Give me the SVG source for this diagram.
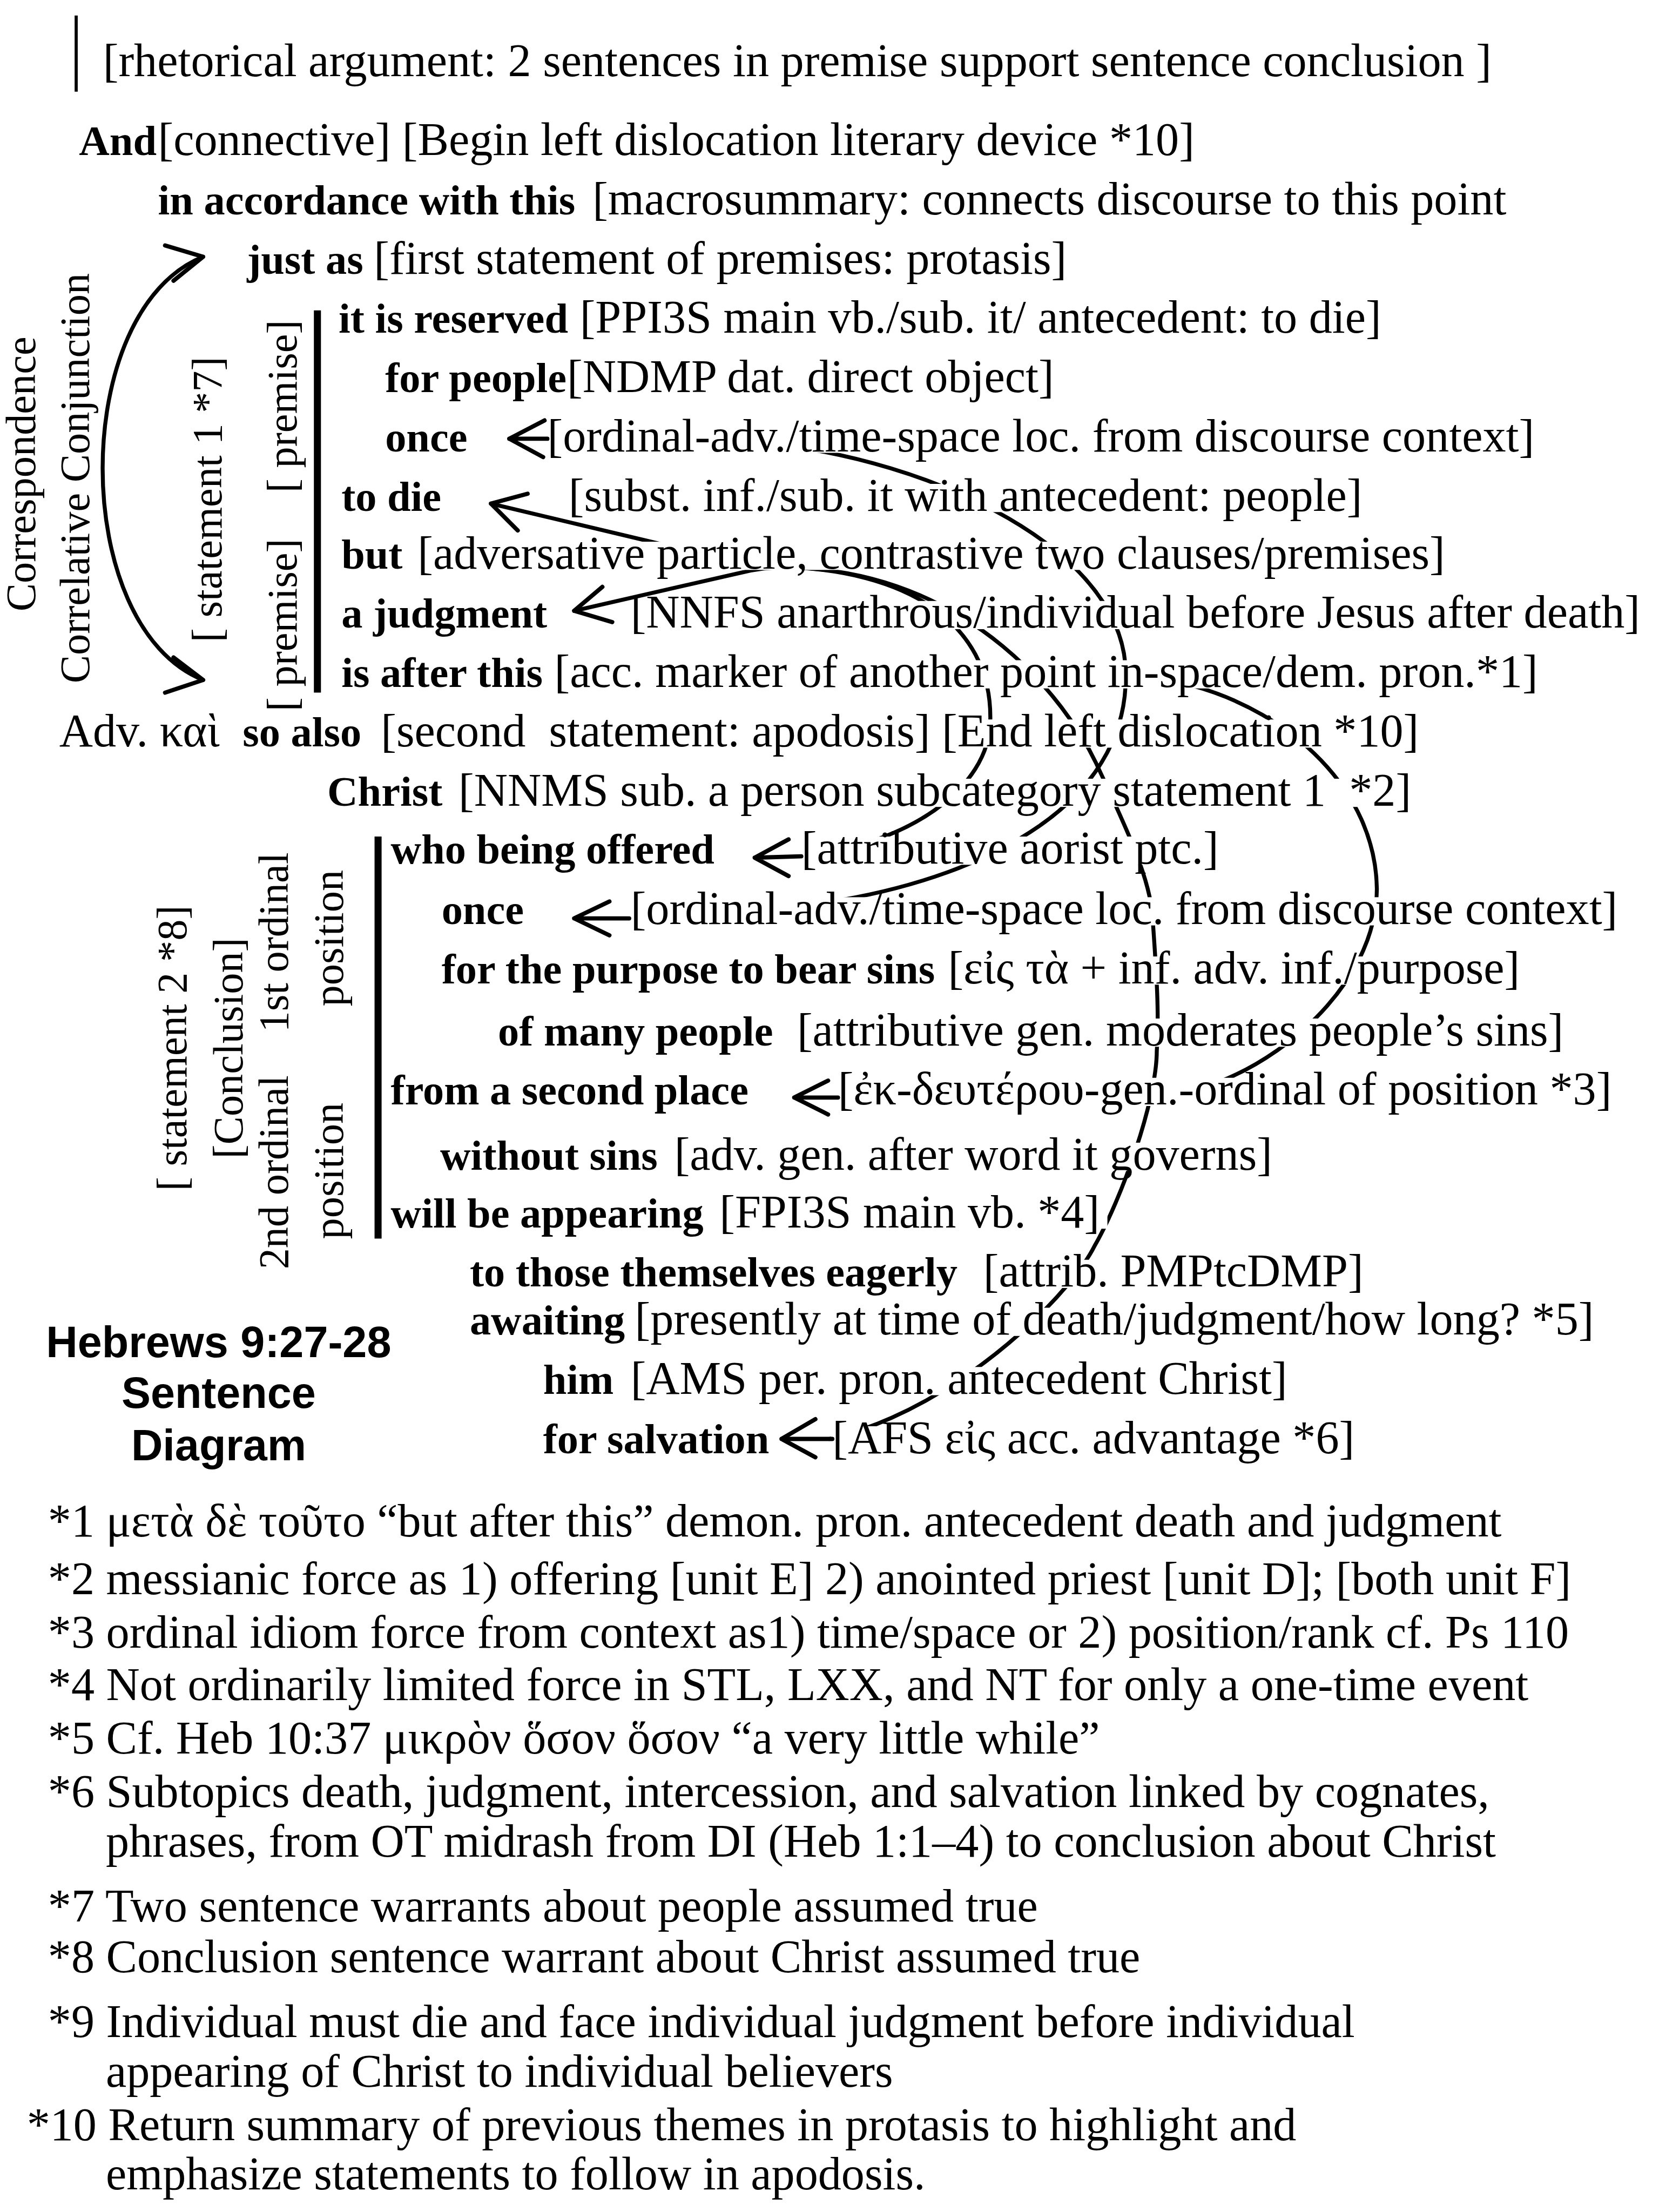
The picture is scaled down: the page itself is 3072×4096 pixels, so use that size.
<svg xmlns="http://www.w3.org/2000/svg" width="3072" height="4096" viewBox="0 0 3072 4096">
<style>
.r{font-family:"Liberation Serif","DejaVu Serif",serif;font-size:33px;fill:#000;white-space:pre}
.b{font-family:"Liberation Serif","DejaVu Serif",serif;font-size:30px;font-weight:bold;fill:#000;white-space:pre}
.v{font-family:"Liberation Serif","DejaVu Serif",serif;font-size:30px;fill:#000;text-anchor:middle;white-space:pre}
.s{font-family:"Liberation Sans",Arial,sans-serif;font-size:31px;font-weight:bold;fill:#000;text-anchor:middle}
.ln{fill:none;stroke:#000;stroke-width:2.8;stroke-linecap:round;stroke-linejoin:round}
.ah{fill:none;stroke:#000;stroke-width:3;stroke-linecap:round;stroke-linejoin:round}
.bar{stroke:#000;stroke-width:5}
</style>
<defs>
<mask id="tm" maskUnits="userSpaceOnUse" maskContentUnits="userSpaceOnUse" x="0" y="0" width="1176" height="1568">
<rect x="0" y="0" width="1176" height="1568" fill="#fff"/>
<g fill="#000">
<rect x="388" y="301" width="706" height="20"/>
<rect x="403" y="343" width="570" height="20"/>
<rect x="294" y="384" width="738" height="20"/>
<rect x="445" y="426" width="727" height="20"/>
<rect x="390" y="468" width="705" height="20"/>
<rect x="268" y="510" width="749" height="20"/>
<rect x="230" y="552" width="777" height="20"/>
<rect x="566" y="593" width="305" height="20"/>
<rect x="446" y="636" width="708" height="20"/>
<rect x="311" y="678" width="771" height="20"/>
<rect x="351" y="722" width="764" height="20"/>
<rect x="593" y="764" width="549" height="20"/>
<rect x="310" y="810" width="599" height="20"/>
<rect x="275" y="851" width="510" height="20"/>
<rect x="331" y="893" width="641" height="20"/>
<rect x="331" y="927" width="812" height="20"/>
<rect x="383" y="969" width="535" height="20"/>
<rect x="589" y="1011" width="376" height="20"/>
</g>
</mask>
</defs>
<rect x="0" y="0" width="3072" height="4096" fill="#fff"/>
<g transform="scale(2.612245)">

<g id="header">
<line x1="54" y1="11" x2="54" y2="65" stroke="#000" stroke-width="2.2"/>
<text class="r" x="73" y="54">[rhetorical argument: 2 sentences in premise support sentence conclusion ]</text>
</g>
<g id="n-and"><text class="b" x="56" y="110">And</text><text class="r" x="112" y="110">[connective] [Begin left dislocation literary device *10]</text></g>
<g id="n-accordance"><text class="b" x="112" y="152">in accordance with this</text><text class="r" x="420" y="152">[macrosummary: connects discourse to this point</text></g>
<g id="n-justas"><text class="b" x="175" y="194">just as</text><text class="r" x="265" y="194">[first statement of premises: protasis]</text></g>
<g id="n-reserved"><text class="b" x="240" y="236">it is reserved</text><text class="r" x="411" y="236">[PPI3S main vb./sub. it/ antecedent: to die]</text></g>
<g id="n-people"><text class="b" x="273" y="278">for people</text><text class="r" x="402" y="278">[NDMP dat. direct object]</text></g>
<g id="n-once1"><text class="b" x="273" y="320">once</text><text class="r" x="388" y="320">[ordinal-adv./time-space loc. from discourse context]</text></g>
<g id="n-todie"><text class="b" x="242" y="362">to die</text><text class="r" x="403" y="362">[subst. inf./sub. it with antecedent: people]</text></g>
<g id="n-but"><text class="b" x="242" y="403">but</text><text class="r" x="296" y="403">[adversative particle, contrastive two clauses/premises]</text></g>
<g id="n-judgment"><text class="b" x="242" y="445">a judgment</text><text class="r" x="447" y="445">[NNFS anarthrous/individual before Jesus after death]</text></g>
<g id="n-afterthis"><text class="b" x="242" y="487">is after this</text><text class="r" x="393" y="487">[acc. marker of another point in-space/dem. pron.*1]</text></g>
<g id="n-soalso"><text class="r" x="42" y="529">Adv. καὶ</text><text class="b" x="172" y="529">so also</text><text class="r" x="270" y="529">[second  statement: apodosis] [End left dislocation *10]</text></g>
<g id="n-christ"><text class="b" x="232" y="571">Christ</text><text class="r" x="325" y="571">[NNMS sub. a person subcategory statement 1  *2]</text></g>
<g id="n-offered"><text class="b" x="277" y="612">who being offered</text><text class="r" x="568" y="612">[attributive aorist ptc.]</text></g>
<g id="n-once2"><text class="b" x="313" y="655">once</text><text class="r" x="447" y="655">[ordinal-adv./time-space loc. from discourse context]</text></g>
<g id="n-purpose"><text class="b" x="313" y="697">for the purpose to bear sins</text><text class="r" x="672" y="697">[εἰς τὰ + inf. adv. inf./purpose]</text></g>
<g id="n-many"><text class="b" x="353" y="741">of many people</text><text class="r" x="565" y="741">[attributive gen. moderates people’s sins]</text></g>
<g id="n-second"><text class="b" x="277" y="783">from a second place</text><text class="r" x="594" y="783">[ἐκ-δευτέρου-gen.-ordinal of position *3]</text></g>
<g id="n-without"><text class="b" x="312" y="829">without sins</text><text class="r" x="478" y="829">[adv. gen. after word it governs]</text></g>
<g id="n-appearing"><text class="b" x="277" y="870">will be appearing</text><text class="r" x="510" y="870">[FPI3S main vb. *4]</text></g>
<g id="n-eagerly"><text class="b" x="333" y="912">to those themselves eagerly</text><text class="r" x="697" y="912">[attrib. PMPtcDMP]</text></g>
<g id="n-awaiting"><text class="b" x="333" y="946">awaiting</text><text class="r" x="450" y="946">[presently at time of death/judgment/how long? *5]</text></g>
<g id="n-him"><text class="b" x="385" y="988">him</text><text class="r" x="447" y="988">[AMS per. pron. antecedent Christ]</text></g>
<g id="n-salvation"><text class="b" x="385" y="1030">for salvation</text><text class="r" x="590" y="1030">[AFS εἰς acc. advantage *6]</text></g>

<g id="left-labels-1">
<text class="v" transform="translate(25,336) rotate(-90)">Correspondence</text>
<text class="v" transform="translate(63,339) rotate(-90)">Correlative Conjunction</text>
<text class="v" transform="translate(157,354) rotate(-90)">[ statement 1 *7]</text>
<text class="v" transform="translate(210,288) rotate(-90)">[ premise]</text>
<text class="v" transform="translate(210,443) rotate(-90)">[ premise]</text>
<line class="bar" x1="225" y1="220" x2="225" y2="491"/>
</g>
<g id="left-labels-2">
<text class="v" transform="translate(132,743) rotate(-90)">[ statement 2 *8]</text>
<text class="v" transform="translate(172,743) rotate(-90)">[Conclusion]</text>
<text class="v" transform="translate(204,668) rotate(-90)">1st ordinal</text>
<text class="v" transform="translate(204,831) rotate(-90)">2nd ordinal</text>
<text class="v" transform="translate(243,665) rotate(-90)">position</text>
<text class="v" transform="translate(243,830) rotate(-90)">position</text>
<line class="bar" x1="268" y1="593" x2="268" y2="878"/>
</g>
<g id="correlative-arrow">
<path class="ln" d="M144,182 C49,220 49,444 144,482"/>
<path class="ah" d="M117,174 L144,182 L123,199"/>
<path class="ah" d="M123,466 L144,482 L117,491"/>
</g>

<g id="title">
<text class="s" x="155" y="962">Hebrews 9:27-28</text>
<text class="s" x="155" y="998">Sentence</text>
<text class="s" x="155" y="1035">Diagram</text>
</g>

<g id="footnotes">
<text class="r" x="34" y="1089">*1 μετὰ δὲ τοῦτο “but after this” demon. pron. antecedent death and judgment</text>
<text class="r" x="34" y="1130">*2 messianic force as 1) offering [unit E] 2) anointed priest [unit D]; [both unit F]</text>
<text class="r" x="34" y="1168">*3 ordinal idiom force from context as1) time/space or 2) position/rank cf. Ps 110</text>
<text class="r" x="34" y="1205">*4 Not ordinarily limited force in STL, LXX, and NT for only a one-time event</text>
<text class="r" x="34" y="1243">*5 Cf. Heb 10:37 μικρὸν ὅσον ὅσον “a very little while”</text>
<text class="r" x="34" y="1281">*6 Subtopics death, judgment, intercession, and salvation linked by cognates,</text>
<text class="r" x="75" y="1316">phrases, from OT midrash from DI (Heb 1:1–4) to conclusion about Christ</text>
<text class="r" x="34" y="1362">*7 Two sentence warrants about people assumed true</text>
<text class="r" x="34" y="1398">*8 Conclusion sentence warrant about Christ assumed true</text>
<text class="r" x="34" y="1444">*9 Individual must die and face individual judgment before individual</text>
<text class="r" x="75" y="1479">appearing of Christ to individual believers</text>
<text class="r" x="19" y="1517">*10 Return summary of previous themes in protasis to highlight and</text>
<text class="r" x="75" y="1552">emphasize statements to follow in apodosis.</text>
</g>

<g id="connectors">
<g class="ln" mask="url(#tm)">
<path d="M388,311 L520,311 Q532,311 540,314 C660,325 800,390 798,480 C798,570 700,620 596,638 C540,648 490,651 446,651"/>
<path d="M348,357 L470,386 Q515,397 555,402 C640,404 703,440 702,510 C702,560 640,600 570,606"/>
<path d="M407,433 L525,406 Q550,400 575,403 C690,412 755,495 777,541 C795,580 815,620 817,650 C819,680 822,715 820,745 C820,780 795,850 776,883 C760,915 700,975 632,1005 Q612,1014 588,1020"/>
<path d="M845,486 C915,505 975,560 976,630 C976,690 920,745 864,767 C840,776 810,778 780,778 L594,778"/>
</g>
<g class="ah">
<path d="M386,298 L361,311 L385,324 M361,311 L388,311"/>
<path d="M374,350 L348,357 L367,376"/>
<path d="M427,416 L407,433 L434,441"/>
<path d="M559,595 L535,608 L559,621 M535,608 L568,607"/>
<path d="M432,639 L407,651 L432,663 M407,651 L446,651"/>
<path d="M587,766 L563,778 L587,790 M563,778 L594,778"/>
<path d="M578,1006 L554,1020 L578,1033 M554,1020 L590,1020"/>
</g>
</g>
</g>
</svg>
